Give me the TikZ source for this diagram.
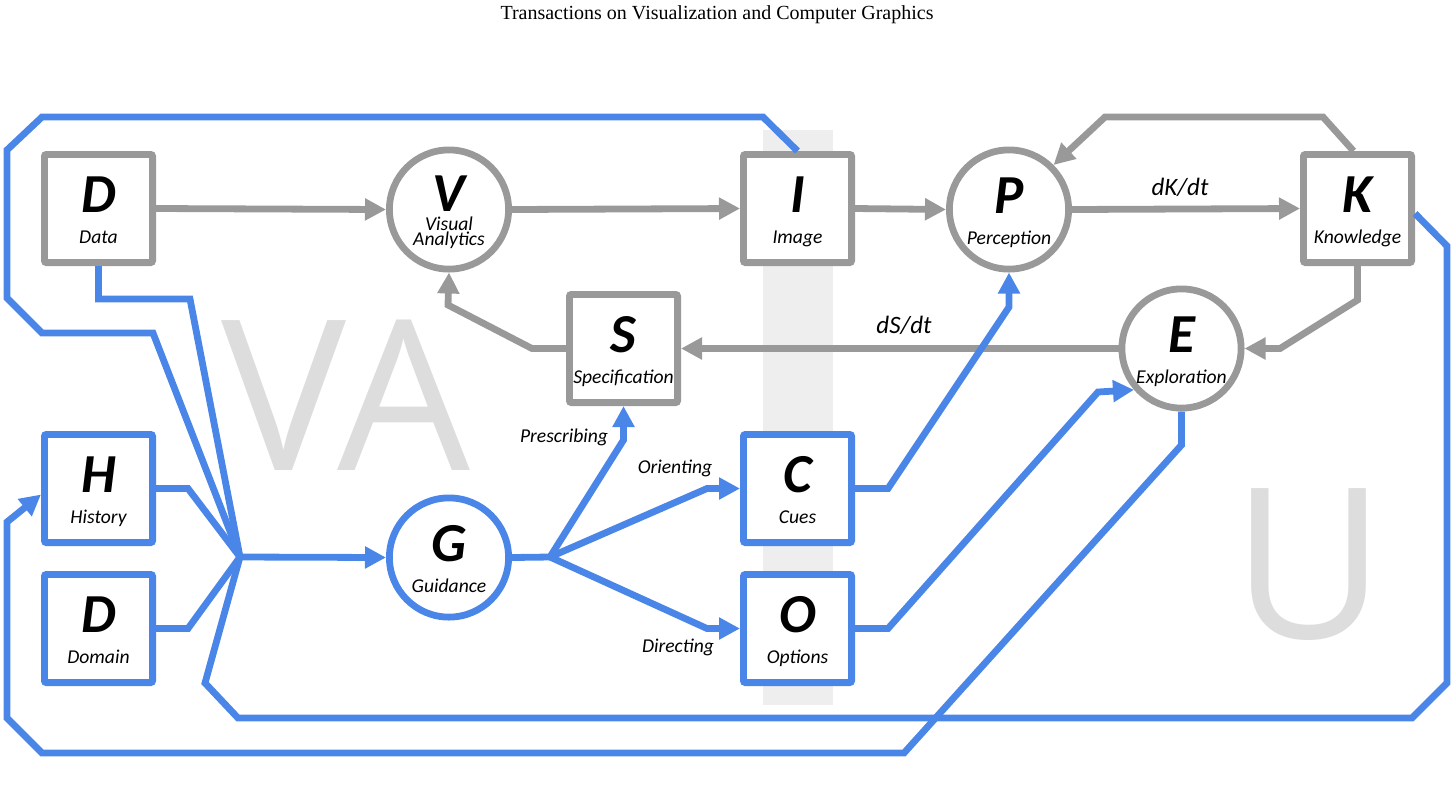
\documentclass[tikz,border=0pt]{standalone}
\usepackage{fontspec}
\setmainfont{Liberation Serif}
\newfontfamily\calfont{Carlito}
\newfontfamily\wmfont{Open Sans}
\usetikzlibrary{arrows.meta,calc}
\definecolor{vblue}{RGB}{74,134,232}
\definecolor{vgray}{RGB}{153,153,153}
\definecolor{bandgray}{RGB}{238,238,238}
\definecolor{wmgray}{RGB}{221,221,221}
\begin{document}
\begin{tikzpicture}[x=0.5pt,y=-0.5pt,line join=miter,
  box/.style={draw,line width=3.4pt,fill=white,minimum size=54.1pt,rounded corners=1pt,inner sep=0pt},
  circ/.style={draw,circle,line width=3.4pt,fill=white,minimum size=59.6pt,inner sep=0pt},
  gbox/.style={box,draw=vgray},
  bbox/.style={box,draw=vblue},
  gcirc/.style={circ,draw=vgray},
  bcirc/.style={circ,draw=vblue},
  letter/.style={font=\calfont\bfseries\itshape\fontsize{27.5}{28}\selectfont,anchor=base,inner sep=0pt},
  sub/.style={font=\calfont\itshape\fontsize{9.8}{10}\selectfont,anchor=base,inner sep=0pt},
  elabel/.style={font=\calfont\itshape\fontsize{9.8}{10}\selectfont,anchor=base,inner sep=0pt},
  dlabel/.style={font=\calfont\itshape\fontsize{12.5}{13}\selectfont,anchor=base,inner sep=0pt},
  wm/.style={font=\wmfont\fontsize{105}{105}\selectfont,text=wmgray,anchor=base,inner sep=0pt},
  gline/.style={draw=vgray,line width=3.4pt},
  garrow/.style={gline,-{Triangle[length=10.5pt,width=10.5pt]}},
  bline/.style={draw=vblue,line width=3.4pt},
  barrow/.style={bline,-{Triangle[length=10.5pt,width=10.5pt]}}
]
\useasboundingbox (0,0) rectangle (1454,794);
% header
\node[font=\fontsize{10}{12}\selectfont,anchor=base,inner sep=0pt] (hdr) at (717,19) {Transactions on Visualization and Computer Graphics};
% background band and watermarks
\fill[bandgray] (763,130) rectangle (833,705);
\node[wm] (VA) at (346,470) {VA};
\node[wm] (U) at (1309,638) {U};
% main nodes
\node[gbox] (D) at (98.5,208.5) {};
\node[gcirc] (V) at (449,209.5) {};
\node[gbox] (I) at (797.5,208.5) {};
\node[gcirc] (P) at (1009,209.5) {};
\node[gbox] (K) at (1357.5,208.5) {};
\node[gbox] (S) at (623.5,348.5) {};
\node[gcirc] (E) at (1181.5,348.5) {};
\node[bbox] (H) at (98.5,488.5) {};
\node[bbox] (Dm) at (98.5,628.5) {};
\node[bcirc] (G) at (449,557.5) {};
\node[bbox] (C) at (797.5,488.5) {};
\node[bbox] (O) at (797.5,628.5) {};
% letters and names
\node[letter] (Dt) at ($(D)+(0,4)$) {D};
\node[sub] (Ds) at ($(D)+(0,35)$) {Data};
\node[letter] (Vt) at ($(V)+(0,2)$) {V};
\node[sub,anchor=north,align=center,font=\calfont\itshape\fontsize{9.8}{7.6}\selectfont] (Vs) at ($(V)+(0,7)$) {Visual\\Analytics};
\node[letter] (It) at ($(I)+(0,4)$) {I};
\node[sub] (Is) at ($(I)+(0,35)$) {Image};
\node[letter] (Pt) at ($(P)+(0,4)$) {P};
\node[sub] (Ps) at ($(P)+(0,35)$) {Perception};
\node[letter] (Kt) at ($(K)+(0,4)$) {K};
\node[sub] (Ks) at ($(K)+(0,35)$) {Knowledge};
\node[letter] (St) at ($(S)+(0,4)$) {S};
\node[sub] (Ss) at ($(S)+(0,35)$) {Specification};
\node[letter] (Et) at ($(E)+(0,4)$) {E};
\node[sub] (Es) at ($(E)+(0,35)$) {Exploration};
\node[letter] (Ht) at ($(H)+(0,4)$) {H};
\node[sub] (Hs) at ($(H)+(0,35)$) {History};
\node[letter] (Dmt) at ($(Dm)+(0,4)$) {D};
\node[sub] (Dms) at ($(Dm)+(0,35)$) {Domain};
\node[letter] (Gt) at ($(G)+(0,4)$) {G};
\node[sub] (Gs) at ($(G)+(0,35)$) {Guidance};
\node[letter] (Ct) at ($(C)+(0,4)$) {C};
\node[sub] (Cs) at ($(C)+(0,35)$) {Cues};
\node[letter] (Ot) at ($(O)+(0,4)$) {O};
\node[sub] (Os) at ($(O)+(0,35)$) {Options};
% edge labels
\node[dlabel] (dK) at (1180,195) {dK/dt};
\node[dlabel] (dS) at (904,333) {dS/dt};
\node[elabel] (pre) at (564,442) {Prescribing};
\node[elabel] (ori) at (675,473) {Orienting};
\node[elabel] (dir) at (678,652) {Directing};
% junctions
\coordinate (J) at (240,557);
\coordinate (B) at (550,557);
% gray connectors
\draw[garrow] (D.east) -- (V.west);
\draw[garrow] (V.east) -- (I.west);
\draw[garrow] (I.east) -- (P.west);
\draw[garrow] (P.east) -- (K.west);
\draw[garrow] ($(K.north)+(-4,0)$) -- (1323,117) -- (1105,117) -- (P.45);
\draw[garrow] (K.south) -- (1357.5,300) -- (1280,348.5) -- (E.east);
\draw[garrow] (E.west) -- (S.east);
\draw[garrow] (S.west) -- (532,348.5) -- (448,305) -- (V.south);
% blue connectors
\draw[bline] (I.north) -- (763,117) -- (42,117) -- (7,150) -- (7,298) -- (42,333) -- (153,333) -- (J);
\draw[bline] (D.south) -- (98.5,299) -- (190,299) -- (J);
\draw[bline] (H.east) -- (188,488.5) -- (J);
\draw[bline] (Dm.east) -- (188,628.5) -- (J);
\draw[bline] ($(K.east)+(0,5)$) -- (1447,246) -- (1447,683) -- (1412,718) -- (238,718) -- (205,683) -- (J);
\draw[barrow] (J) -- (G.west);
\draw[bline] (G.east) -- (B);
\draw[barrow] (B) -- (623.5,440) -- (S.south);
\draw[barrow] (B) -- (707,488.5) -- (C.west);
\draw[barrow] (B) -- (707,628.5) -- (O.west);
\draw[barrow] (C.east) -- (888,488.5) -- (1009,307) -- (P.south);
\draw[barrow] (O.east) -- (888,628.5) -- (1098,392) -- (E.221);
\draw[barrow] (E.south) -- (1181.5,445) -- (904,753) -- (42,753) -- (7,718) -- (7,522) -- ($(H.west)+(0,6)$);
\end{tikzpicture}
\end{document}
